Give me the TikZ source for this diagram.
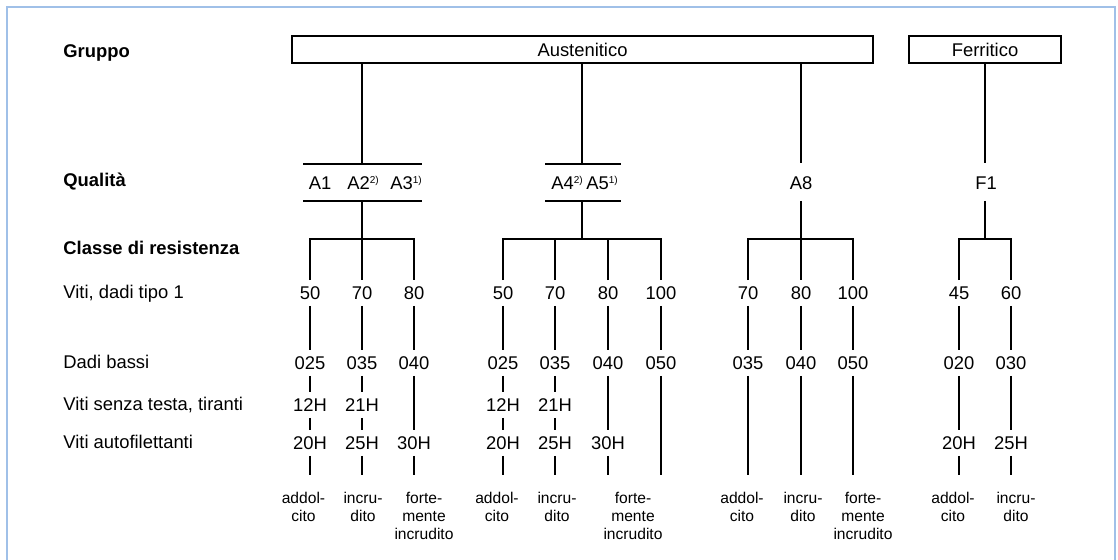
\documentclass[tikz,border=0pt]{standalone}
\usepackage{fontspec}
\setmainfont{Liberation Sans}
\usepackage{tikz}
\usetikzlibrary{positioning}

\definecolor{framecol}{RGB}{160,192,232}

\newcommand{\note}[1]{\raisebox{3pt}{\fontsize{5}{6}\selectfont #1}}

\begin{document}
\begin{tikzpicture}[x=0.5pt,y=-0.5pt,
    font=\fontsize{9.2}{11}\selectfont,
    line width=1.4pt,
    grp/.style={draw, line width=1.3pt, minimum height=13.5pt, inner sep=0pt},
    num/.style={text height=6.5pt, text depth=0pt, inner xsep=1pt, inner ysep=2.5pt},
    row/.style={anchor=west, text height=6.5pt, text depth=0pt, inner sep=0pt},
    kind/.style={align=center, anchor=north, inner sep=0pt,
                 font=\fontsize{7.8}{9}\selectfont}]

\useasboundingbox (0,0) rectangle (1118,560);
\draw [framecol, line width=1.3pt] (7,7) rectangle (1115,600);

% row labels
\node [row] (lgr) at (62,51)  {\bfseries Gruppo};
\node [row] (lqu) at (62,180) {\bfseries Qualità};
\node [row] (lcl) at (62,248) {\bfseries Classe di resistenza};
\node [row] (lvi) at (62,292) {Viti, dadi tipo 1};
\node [row] (lda) at (62,362) {Dadi bassi};
\node [row] (lse) at (62,404) {Viti senza testa, tiranti};
\node [row] (lau) at (62,442) {Viti autofilettanti};

% groups
\node [grp, minimum width=290.5pt] (aus) at (582.5,49.5) {Austenitico};
\node [grp, minimum width=76pt]    (fer) at (985,49.5)   {Ferritico};

% qualities
\node [num] (a1) at (320,183) {A1};
\node [num, anchor=west, inner xsep=0pt] (a2) at (346,183) {A2\note{2)}};
\node [num, anchor=west, inner xsep=0pt] (a3) at (389,183) {A3\note{1)}};
\node [num, anchor=west, inner xsep=0pt] (a4) at (550,183) {A4\note{2)}};
\node [num, anchor=west, inner xsep=0pt] (a5) at (585,183) {A5\note{1)}};
\node [num] (a8)  at (801,183) {A8};
\node [num] (fe1) at (986,183) {F1};

\coordinate (up1) at (362,164);
\coordinate (lo1) at (362,201);
\coordinate (j1)  at (362,239);
\coordinate (up2) at (582,164);
\coordinate (lo2) at (582,201);
\coordinate (j2)  at (582,239);
\coordinate (up3) at (801,163);
\coordinate (lo3) at (801,201);
\coordinate (j3)  at (801,239);
\coordinate (up4) at (985,163);
\coordinate (lo4) at (985,201);
\coordinate (j4)  at (985,239);
\coordinate (bot) at (0,475);

\foreach \l/\r in {303/422, 545/621} {
    \draw (\l,164) -- (\r,164);
    \draw (\l,201) -- (\r,201);
}

\foreach \q/\g in {1/aus, 2/aus, 3/aus, 4/fer} {
    \draw (\g.south -| up\q) -- (up\q);
    \draw (lo\q) -- (j\q);
}

% classes
\foreach \n/\x/\a/\b in {11/310/50/025, 12/362/70/035, 13/414/80/040,
        21/503/50/025, 22/555/70/035, 23/608/80/040, 24/661/100/050,
        31/748/70/035, 32/801/80/040, 33/853/100/050,
        41/959/45/020, 42/1011/60/030} {
    \node [num] (v\n) at (\x,293) {\a};
    \node [num] (d\n) at (\x,363) {\b};
    \draw (v\n) -- (d\n);
}

\foreach \n/\x/\c in {11/310/12H, 12/362/21H, 21/503/12H, 22/555/21H}
    \node [num] (s\n) at (\x,405) {\c};

\foreach \n/\x/\c in {11/310/20H, 12/362/25H, 13/414/30H, 21/503/20H,
        22/555/25H, 23/608/30H, 41/959/20H, 42/1011/25H}
    \node [num] (f\n) at (\x,443) {\c};

\draw (v11.north) |- (j1) -| (v13.north);
\draw (j1) -- (v12.north);
\draw (v21.north) |- (j2) -| (v24.north);
\draw (v22.north) -- (v22.north |- j2);
\draw (v23.north) -- (v23.north |- j2);
\draw (v31.north) |- (j3) -| (v33.north);
\draw (j3) -- (v32.north);
\draw (v41.north) |- (j4) -| (v42.north);

\foreach \n in {11,12,21,22}
    \draw (d\n) -- (s\n) -- (f\n);
\foreach \n in {13,23,41,42}
    \draw (d\n) -- (f\n);
\foreach \n in {11,12,13,21,22,23,41,42}
    \draw (f\n) -- (f\n |- bot);
\foreach \n in {24,31,32,33}
    \draw (d\n) -- (d\n |- bot);

% states
\node [kind] (k11) at (303.5,491) {addol-\\cito};
\node [kind] (k12) at (363,491)   {incru-\\dito};
\node [kind] (k13) at (424,491)   {forte-\\mente\\incrudito};
\node [kind] (k21) at (497,491)   {addol-\\cito};
\node [kind] (k22) at (557,491)   {incru-\\dito};
\node [kind] (k23) at (633,491)   {forte-\\mente\\incrudito};
\node [kind] (k31) at (742,491)   {addol-\\cito};
\node [kind] (k32) at (803,491)   {incru-\\dito};
\node [kind] (k33) at (863,491)   {forte-\\mente\\incrudito};
\node [kind] (k41) at (953,491)   {addol-\\cito};
\node [kind] (k42) at (1016,491)  {incru-\\dito};

\end{tikzpicture}
\end{document}
